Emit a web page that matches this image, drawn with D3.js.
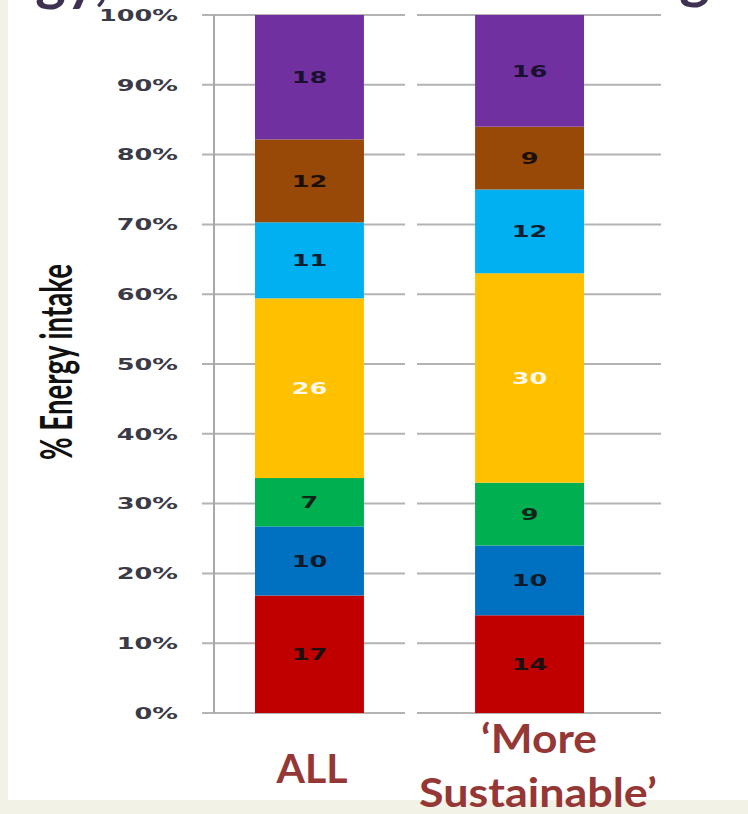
<!DOCTYPE html>
<html>
<head>
<meta charset="utf-8">
<script src="https://cdn.jsdelivr.net/npm/d3@7"></script>
<style>
  html, body { margin: 0; padding: 0; background: #f3f2e7; }
  svg { display: block; }
</style>
</head>
<body>
<svg id="chart" width="748" height="814"></svg>
<script>
// ---- data ----
const categories = ["ALL", "More Sustainable"];
const categoryLines = [["ALL"], ["\u2018More", "Sustainable\u2019"]];
const seriesKeys = ["group1", "group2", "group3", "group4", "group5", "group6", "group7"];
const seriesColors = ["#c00000", "#0070c0", "#00b050", "#ffc000", "#00b0f0", "#984807", "#7030a0"];
const labelColors = ["#1a1010", "#0d1a2a", "#10251a", "#fff8e6", "#0d2030", "#1a1008", "#1a1030"];
const valuesAll = [17, 10, 7, 26, 11, 12, 18];
const valuesMoreSustainable = [14, 10, 9, 30, 12, 9, 16];
const yTicks = [0, 0.1, 0.2, 0.3, 0.4, 0.5, 0.6, 0.7, 0.8, 0.9, 1];
const yTitle = "% Energy intake";
const titleLeft = "Energy,";
const titleRight = "and sustainable eating";

// rows for the stack layout
const rows = categories.map((c, i) => {
  const vals = i === 0 ? valuesAll : valuesMoreSustainable;
  const row = { category: c };
  seriesKeys.forEach((k, j) => { row[k] = vals[j]; });
  return row;
});

const stacked = d3.stack().keys(seriesKeys).offset(d3.stackOffsetExpand)(rows);

// ---- layout ----
const svg = d3.select("#chart");
const textStretch = 1.6;

svg.append("rect").attr("x", 8).attr("y", 0).attr("width", 740).attr("height", 800).attr("fill", "#ffffff");

const y = d3.scaleLinear().domain([0, 1]).range([713, 15]);
const x = d3.scaleBand().domain(categories).range([255, 584]).paddingInner(0.505).paddingOuter(0);

const axisX = 214, tickLeft = 202;
const gridSegments = [[tickLeft, 405], [417, 661]];

// gridlines (split into one run per category slot)
const grid = svg.append("g");
gridSegments.forEach(([a, b]) => {
  grid.selectAll(null).data(yTicks).join("line")
    .attr("x1", a).attr("x2", b)
    .attr("y1", d => y(d)).attr("y2", d => y(d))
    .attr("stroke", "#b3b3b3").attr("stroke-width", 2);
});

// vertical axis line
svg.append("line")
  .attr("x1", axisX).attr("x2", axisX)
  .attr("y1", y(1)).attr("y2", y(0))
  .attr("stroke", "#a8a8a8").attr("stroke-width", 2);

// tick labels
const fmt = d3.format(".0%");
svg.append("g").selectAll("text").data(yTicks).join("text")
  .attr("transform", d => `translate(178,${y(d)}) scale(${textStretch},1)`)
  .attr("text-anchor", "end")
  .attr("dy", "0.36em")
  .attr("font-family", "DejaVu Sans")
  .attr("font-weight", "bold")
  .attr("font-size", 16)
  .attr("fill", "#3b3b48")
  .text(d => fmt(d));

// stacked bars
const layers = svg.append("g").selectAll("g").data(stacked).join("g")
  .attr("fill", (d, i) => seriesColors[i]);

layers.selectAll("rect").data(d => d).join("rect")
  .attr("x", d => x(d.data.category))
  .attr("width", x.bandwidth())
  .attr("y", d => y(d[1]))
  .attr("height", d => y(d[0]) - y(d[1]));

// value labels
layers.each(function (layer, i) {
  d3.select(this).selectAll("text").data(layer).join("text")
    .attr("transform", d => `translate(${x(d.data.category) + x.bandwidth() / 2},${(y(d[0]) + y(d[1])) / 2}) scale(${textStretch},1)`)
    .attr("text-anchor", "middle")
    .attr("dy", "0.36em")
    .attr("font-family", "DejaVu Sans")
    .attr("font-weight", "bold")
    .attr("font-size", 16)
    .attr("fill", labelColors[i])
    .text(d => d.data[layer.key]);
});

// y-axis title
svg.append("text")
  .attr("transform", `translate(72,362) scale(${textStretch},1) rotate(-90)`)
  .attr("text-anchor", "middle")
  .attr("font-family", "Lato")
  .attr("font-weight", "bold")
  .attr("font-size", 28)
  .attr("textLength", 196)
  .attr("lengthAdjust", "spacingAndGlyphs")
  .attr("fill", "#111111")
  .text(yTitle);

// category labels
const catLabel = svg.append("g")
  .attr("font-family", "Lato")
  .attr("font-weight", "bold")
  .attr("font-size", 41)
  .attr("fill", "#953735")
  .attr("text-anchor", "middle");

catLabel.append("text").attr("x", 312).attr("y", 783).text(categoryLines[0][0]);
catLabel.append("text").attr("x", 539).attr("y", 753)
  .attr("textLength", 116).attr("lengthAdjust", "spacingAndGlyphs")
  .text(categoryLines[1][0]);
catLabel.append("text").attr("x", 538).attr("y", 807)
  .attr("textLength", 238).attr("lengthAdjust", "spacingAndGlyphs")
  .text(categoryLines[1][1]);

// page title (runs off the top of the page)
const title = svg.append("g")
  .attr("font-family", "Lato")
  .attr("font-weight", "bold")
  .attr("font-size", 58)
  .attr("fill", "#3f3151")
  .attr("text-anchor", "end");
title.append("text").attr("x", 108).attr("y", -1).text(titleLeft);
title.append("text").attr("x", 710).attr("y", -3).text(titleRight);
</script>
</body>
</html>
